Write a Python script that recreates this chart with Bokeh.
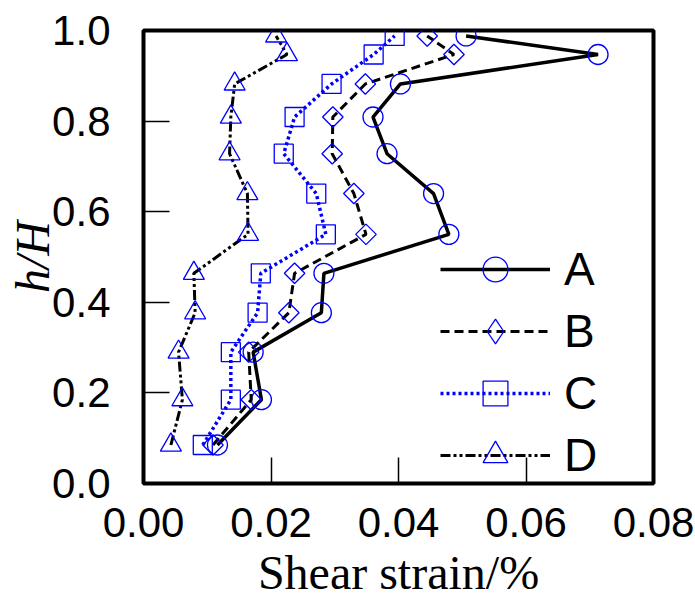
import numpy as np
from bokeh.plotting import figure
from bokeh.models import Legend, LegendItem, FixedTicker, PrintfTickFormatter
from bokeh.embed import file_html
from bokeh.resources import INLINE

# ---- data ----
h_levels = [0.085, 0.185, 0.29, 0.377, 0.464, 0.55, 0.64, 0.728, 0.809, 0.882, 0.947, 0.988]
strain_A = [0.0116, 0.0185, 0.0172, 0.0279, 0.0283, 0.0479, 0.0455, 0.0382, 0.0360, 0.0403, 0.0713, 0.0506]
strain_B = [0.0109, 0.0169, 0.0165, 0.0228, 0.0237, 0.0349, 0.0330, 0.0296, 0.0297, 0.0348, 0.0487, 0.0445]
strain_C = [0.0093, 0.0137, 0.0137, 0.0179, 0.0184, 0.0286, 0.0271, 0.0220, 0.0237, 0.0295, 0.0361, 0.0394]
strain_D = [0.0043, 0.0061, 0.0055, 0.0081, 0.0079, 0.0164, 0.0163, 0.0135, 0.0137, 0.0143, 0.0225, 0.0208]
series_names = ["A", "B", "C", "D"]
x_ticks = [0.0, 0.02, 0.04, 0.06, 0.08]
y_ticks = [0.0, 0.2, 0.4, 0.6, 0.8, 1.0]

SANS = "Liberation Sans"
SERIF = "Liberation Serif"
BLUE = "#0000ff"

p = figure(width=694, height=602,
           x_range=(0, 0.08), y_range=(0, 1.0),
           output_backend="svg", toolbar_location=None,
           min_border_left=143, min_border_right=41,
           min_border_top=30, min_border_bottom=119)

p.grid.visible = False
p.outline_line_color = "black"
p.outline_line_width = 4
p.outline_line_alpha = 1.0

for ax in (p.xaxis[0], p.yaxis[0]):
    ax.axis_line_color = None
    ax.major_tick_in = 26
    ax.major_tick_out = 0
    ax.major_tick_line_width = 1.5
    ax.major_tick_line_color = "black"
    ax.minor_tick_line_color = None
    ax.major_label_text_font = SANS
    ax.major_label_text_font_size = "42px"
    ax.major_label_text_color = "black"
    ax.axis_label_text_font = SERIF
    ax.axis_label_text_font_size = "48px"
    ax.axis_label_text_color = "black"

p.xaxis.ticker = FixedTicker(ticks=x_ticks)
p.xaxis.formatter = PrintfTickFormatter(format="%.2f")
p.yaxis.ticker = FixedTicker(ticks=y_ticks)
p.yaxis.formatter = PrintfTickFormatter(format="%.1f")
p.xaxis.axis_label = "Shear strain/%"
p.xaxis.axis_label_text_font_style = "normal"
p.xaxis.major_label_standoff = 24
p.xaxis.axis_label_standoff = 6
p.yaxis.axis_label = "h/H"
p.yaxis.axis_label_text_font_style = "italic"
p.yaxis.major_label_standoff = 33
p.yaxis.axis_label_standoff = -10

styles = {
    "A": dict(line_color="black", line_width=3.5, line_dash="solid", marker="circle", size=20, angle=0.0),
    "B": dict(line_color="black", line_width=3, line_dash="9 5", marker="square", size=14.5, angle=np.pi / 4),
    "C": dict(line_color=BLUE, line_width=3.5, line_dash="3 3", marker="square", size=19, angle=0.0),
    "D": dict(line_color="black", line_width=3, line_dash="10 3 3 3 3 3", marker="triangle", size=21, angle=0.0),
}
# legend glyph shape/size (legend swatches do not rotate markers)
legend_marker = {"A": ("circle", 20), "B": ("diamond", 24), "C": ("square", 19), "D": ("triangle", 21)}
data = {"A": strain_A, "B": strain_B, "C": strain_C, "D": strain_D}

items = []
for name in series_names:
    st = styles[name]
    ln = p.line(data[name], h_levels, line_color=st["line_color"], line_width=st["line_width"],
                line_dash=st["line_dash"])
    sc = p.scatter(data[name], h_levels, marker=st["marker"], size=st["size"], angle=st["angle"],
                   line_color=BLUE, line_width=1.3, fill_color=None)
    lm, lsize = legend_marker[name]
    if lm != st["marker"]:
        # legend-only swatch: a single NaN point, never drawn in the plot area
        sw = p.scatter([np.nan], [np.nan], marker=lm, size=lsize,
                       line_color=BLUE, line_width=1.3, fill_color=None)
        items.append(LegendItem(label=name, renderers=[ln, sw]))
    else:
        items.append(LegendItem(label=name, renderers=[ln, sc]))

legend = Legend(items=items, location=(297, -3), orientation="vertical",
                glyph_width=110, glyph_height=62, label_height=62,
                spacing=0, padding=0, margin=0, label_standoff=14,
                label_text_font=SANS, label_text_font_size="46px", label_text_color="black",
                border_line_color=None, background_fill_alpha=0)
p.add_layout(legend)

open("out.html", "w").write(file_html(p, INLINE))
